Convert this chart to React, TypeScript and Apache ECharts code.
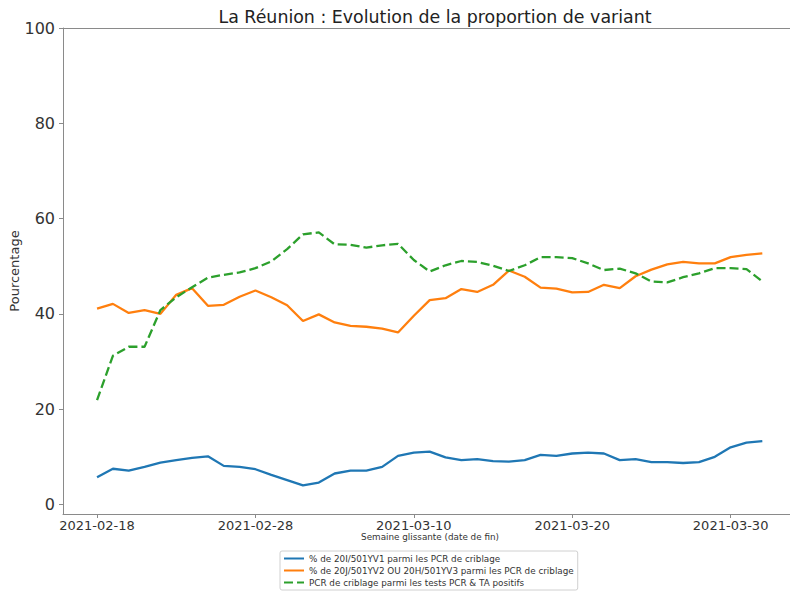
import React, { useEffect, useRef } from "react";
import * as echarts from "echarts";

const dates = [
  "2021-02-18", "2021-02-19", "2021-02-20", "2021-02-21", "2021-02-22", "2021-02-23",
  "2021-02-24", "2021-02-25", "2021-02-26", "2021-02-27", "2021-02-28", "2021-03-01",
  "2021-03-02", "2021-03-03", "2021-03-04", "2021-03-05", "2021-03-06", "2021-03-07",
  "2021-03-08", "2021-03-09", "2021-03-10", "2021-03-11", "2021-03-12", "2021-03-13",
  "2021-03-14", "2021-03-15", "2021-03-16", "2021-03-17", "2021-03-18", "2021-03-19",
  "2021-03-20", "2021-03-21", "2021-03-22", "2021-03-23", "2021-03-24", "2021-03-25",
  "2021-03-26", "2021-03-27", "2021-03-28", "2021-03-29", "2021-03-30", "2021-03-31",
  "2021-04-01",
];

const v1 = [
  5.7, 7.5, 7.1, 7.9, 8.8, 9.3, 9.8, 10.1, 8.1, 7.9, 7.4, 6.2, 5.1, 4.0, 4.6, 6.5,
  7.1, 7.1, 7.9, 10.2, 10.9, 11.1, 9.9, 9.3, 9.5, 9.1, 9.0, 9.3, 10.4, 10.2, 10.7,
  10.9, 10.7, 9.3, 9.5, 8.9, 8.9, 8.7, 8.9, 10.0, 12.0, 13.0, 13.3,
];

const v2v3 = [
  41.1, 42.1, 40.2, 40.8, 40.0, 44.0, 45.4, 41.7, 41.9, 43.6, 44.9, 43.5, 41.8, 38.5,
  39.9, 38.2, 37.5, 37.3, 36.9, 36.1, 39.6, 42.9, 43.3, 45.2, 44.6, 46.1, 49.1, 47.8,
  45.5, 45.3, 44.5, 44.6, 46.1, 45.4, 47.9, 49.3, 50.4, 50.9, 50.6, 50.6, 51.9, 52.4,
  52.7,
];

const criblage = [
  21.9, 31.2, 33.1, 33.1, 40.8, 43.5, 45.6, 47.6, 48.2, 48.7, 49.6, 51.0, 53.6, 56.7,
  57.1, 54.6, 54.5, 53.9, 54.4, 54.7, 51.3, 48.9, 50.2, 51.1, 50.9, 50.1, 49.0, 50.2,
  51.9, 51.9, 51.7, 50.6, 49.2, 49.5, 48.5, 46.8, 46.6, 47.7, 48.5, 49.6, 49.6, 49.4,
  46.8,
];

const xTickLabels = ["2021-02-18", "2021-02-28", "2021-03-10", "2021-03-20", "2021-03-30"];
const yTickValues = [0, 20, 40, 60, 80, 100];

const seriesNames = [
  "% de 20I/501YV1 parmi les PCR de criblage",
  "% de 20J/501YV2 OU 20H/501YV3 parmi les PCR de criblage",
  "PCR de criblage parmi les tests PCR & TA positifs",
];

const DAY = 86400000;
const toTs = (s: string) => {
  const [y, m, d] = s.split("-").map(Number);
  return Date.UTC(y, m - 1, d);
};
const fmt = (ts: number) => {
  const d = new Date(ts);
  const p = (n: number) => String(n).padStart(2, "0");
  return `${d.getUTCFullYear()}-${p(d.getUTCMonth() + 1)}-${p(d.getUTCDate())}`;
};

const FONT = "DejaVu Sans";
const SPINE = "#8a8a8a";

export default function App() {
  const ref = useRef<HTMLDivElement>(null);
  useEffect(() => {
    if (!ref.current) return;
    const chart = echarts.init(ref.current, undefined, { renderer: "svg" });
    const start = toTs(dates[0]);
    const dayOf = (s: string) => Math.round((toTs(s) - start) / DAY);
    const mk = (vals: number[]) => dates.map((d, i) => [dayOf(d), vals[i]]);
    const xTicks = xTickLabels.map(dayOf);
    const xMin = -2.15;
    const xMax = 44.19;
    chart.setOption({
      animation: false,
      backgroundColor: "#ffffff",
      title: {
        text: "La Réunion : Evolution de la proportion de variant",
        left: 430,
        top: 3,
        textAlign: "center",
        textStyle: { fontFamily: FONT, fontSize: 17.4, fontWeight: "normal", color: "#222" },
      },
      grid: {
        left: 63,
        top: 28,
        right: -7,
        bottom: 82,
        containLabel: false,
        outerBoundsMode: "none",
        show: false,
      },
      legend: {
        orient: "vertical",
        left: 280,
        top: 551,
        itemWidth: 20,
        itemHeight: 9,
        itemGap: 3,
        padding: [3, 4, 3, 3],
        borderColor: "#d0d0d0",
        borderWidth: 1,
        borderRadius: 2,
        itemStyle: { opacity: 0 },
        textStyle: { fontFamily: FONT, fontSize: 8.8, color: "#333" },
        data: seriesNames,
      },
      xAxis: [
        {
          type: "value",
          min: xMin,
          max: xMax,
          name: "Semaine glissante (date de fin)",
          nameLocation: "middle",
          nameGap: 18,
          nameMoveOverlap: false,
          nameTextStyle: { fontFamily: FONT, fontSize: 8.8, color: "#333", verticalAlign: "top" },
          axisLine: { show: true, onZero: false, lineStyle: { color: SPINE, width: 1 } },
          axisTick: { show: true, length: 4, lineStyle: { color: SPINE }, customValues: xTicks },
          axisLabel: {
            customValues: xTicks,
            formatter: (v: number) => fmt(start + v * DAY),
            fontFamily: FONT,
            fontSize: 13,
            color: "#333",
            margin: 5,
            showMinLabel: true,
            showMaxLabel: true,
          },
          splitLine: { show: false },
        },
        {
          type: "value",
          position: "top",
          min: xMin,
          max: xMax,
          axisLine: { show: true, onZero: false, lineStyle: { color: SPINE, width: 1 } },
          axisTick: { show: false },
          axisLabel: { show: false },
          splitLine: { show: false },
        },
      ],
      yAxis: {
        type: "value",
        min: -2,
        max: 100,
        name: "Pourcentage",
        nameLocation: "middle",
        nameRotate: 90,
        nameGap: 42,
        nameMoveOverlap: false,
        nameTextStyle: { fontFamily: FONT, fontSize: 13, color: "#333" },
        axisLine: { show: true, onZero: false, lineStyle: { color: SPINE, width: 1 } },
        axisTick: { show: true, length: 4, lineStyle: { color: SPINE }, customValues: yTickValues },
        axisLabel: {
          customValues: yTickValues,
          fontFamily: FONT,
          fontSize: 16,
          color: "#333",
          margin: 8,
        },
        splitLine: { show: false },
      },
      series: [
        {
          name: seriesNames[0],
          type: "line",
          data: mk(v1),
          symbol: "none",
          lineStyle: { color: "#1f77b4", width: 2.3 },
          itemStyle: { color: "#1f77b4" },
        },
        {
          name: seriesNames[1],
          type: "line",
          data: mk(v2v3),
          symbol: "none",
          lineStyle: { color: "#ff7f0e", width: 2.3 },
          itemStyle: { color: "#ff7f0e" },
        },
        {
          name: seriesNames[2],
          type: "line",
          data: mk(criblage),
          symbol: "none",
          lineStyle: { color: "#2ca02c", width: 2.3, type: [9, 4] },
          itemStyle: { color: "#2ca02c" },
        },
      ],
    });
    return () => chart.dispose();
  }, []);
  return (
    <div
      ref={ref}
      style={{ position: "absolute", left: 0, top: 0, width: 790, height: 596, background: "#fff" }}
    />
  );
}
